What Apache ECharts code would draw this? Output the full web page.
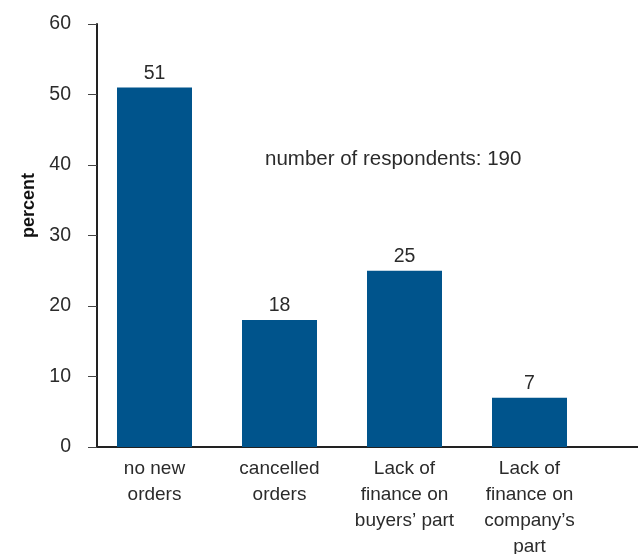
<!DOCTYPE html>
<html>
<head>
<meta charset="utf-8">
<script src="https://cdn.jsdelivr.net/npm/echarts@6/dist/echarts.min.js"></script>
<style>html,body{margin:0;padding:0;background:#fff;}#c{width:638px;height:554px;}</style>
</head>
<body>
<div id="c"></div>
<script>
const categories = ["no new\norders", "cancelled\norders", "Lack of\nfinance on\nbuyers\u2019 part", "Lack of\nfinance on\ncompany\u2019s\npart"];
const values = [51, 18, 25, 7];
const yTicks = [0, 10, 20, 30, 40, 50, 60];
const note = "number of respondents: 190";

const font = "'Liberation Sans', Arial, sans-serif";
const txt = "#2b2b2b";
const chart = echarts.init(document.getElementById('c'), null, {renderer: 'canvas'});
chart.setOption({
  animation: false,
  backgroundColor: '#fff',
  title: {
    text: note, left: 260, top: 144,
    textStyle: {fontFamily: font, fontSize: 20.5, fontWeight: 'normal', color: txt}
  },
  grid: [
    {left: 92, top: 24, width: 500, bottom: 107, containLabel: false, outerBoundsMode: 'none'},
    {left: 97, top: 24, right: 0, bottom: 107, containLabel: false, outerBoundsMode: 'none'}
  ],
  xAxis: [
    {
      type: 'category', gridIndex: 0, data: categories,
      axisLine: {show: false}, axisTick: {show: false},
      axisLabel: {fontFamily: font, fontSize: 19, color: txt, lineHeight: 26, margin: 9, interval: 0}
    },
    {
      type: 'value', gridIndex: 1, min: 0, max: 1,
      axisLine: {show: true, lineStyle: {color: '#222', width: 2}},
      axisTick: {show: false}, axisLabel: {show: false}, splitLine: {show: false}
    }
  ],
  yAxis: [
    {
      type: 'value', gridIndex: 0, min: yTicks[0], max: yTicks[yTicks.length - 1], interval: 10,
      offset: -5,
      name: 'percent', nameLocation: 'middle', nameGap: 55, nameRotate: 90,
      nameTextStyle: {fontFamily: font, fontSize: 18, fontWeight: 'bold', color: '#111', padding: [0, 0, 0, 60]},
      axisLine: {show: true, lineStyle: {color: '#222', width: 2}},
      axisTick: {show: true, length: 9, lineStyle: {color: '#444', width: 1}},
      axisLabel: {fontFamily: font, fontSize: 19.5, color: txt, margin: 26},
      splitLine: {show: false}
    },
    {type: 'value', gridIndex: 1, show: false, min: 0, max: 1}
  ],
  series: [{
    type: 'bar', xAxisIndex: 0, yAxisIndex: 0,
    data: values, barWidth: '60%',
    itemStyle: {color: '#00548c'},
    label: {show: true, position: 'top', distance: 4, fontFamily: font, fontSize: 19.5, color: txt}
  }]
});
</script>
</body>
</html>
